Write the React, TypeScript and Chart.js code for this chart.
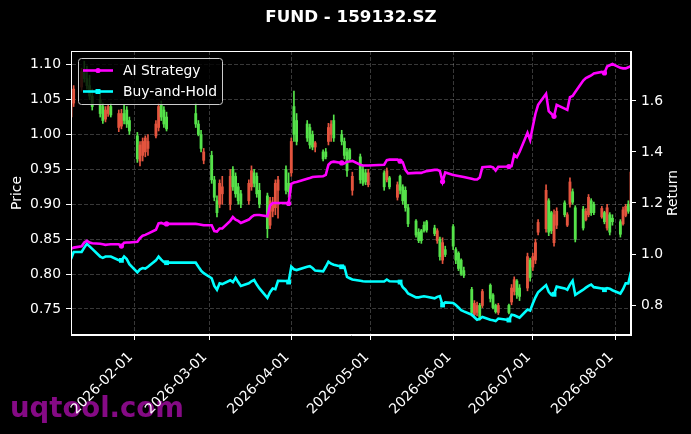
import React, { useEffect, useRef } from 'react';
import { Chart, registerables } from 'chart.js';

Chart.register(...registerables);

// calendar: weekdays between the first and last day, minus exchange holidays
const FIRST_DAY = '2026-01-08';
const LAST_DAY = '2026-08-07';
const holidays = [
  '2026-02-16', '2026-02-17', '2026-02-18', '2026-02-19', '2026-02-20', '2026-02-23',
  '2026-04-06', '2026-05-01', '2026-05-04', '2026-05-05', '2026-06-19',
];

const monthTicks = ['2026-02-01', '2026-03-01', '2026-04-01', '2026-05-01', '2026-06-01', '2026-07-01', '2026-08-01'];
const priceTicks = [0.75, 0.8, 0.85, 0.9, 0.95, 1.0, 1.05, 1.1];
const returnTicks = [0.8, 1.0, 1.2, 1.4, 1.6];

// one line per trading week
const candleOpen = [
  1.025, 1.045,
  1.068, 1.09, 1.08, 1.07, 1.055,
  1.05, 1.04, 1.022, 1.03, 1.04,
  1.01, 1.012, 1.03, 1.035, 1.02,
  0.998, 0.962, 0.97, 0.975, 0.98,
  0.998, 1.01, 1.042, 1.035, 1.025,
  1.03, 1.015, 1.0, 0.963,
  0.97, 0.935, 0.905, 0.9, 0.915,
  0.9, 0.95, 0.94, 0.925, 0.915,
  0.905, 0.925, 0.945, 0.94, 0.92,
  0.912, 0.87, 0.89, 0.895, 0.92,
  0.95, 0.93, 0.945, 1.04, 1.02,
  1.015, 1.01, 1.0, 0.982,
  0.975, 0.975, 0.99, 1.0, 1.02,
  1.0, 0.99, 0.975, 0.978, 0.92,
  0.968, 0.95, 0.945, 0.928,
  0.945, 0.935, 0.938,
  0.91, 0.94, 0.925, 0.92, 0.895,
  0.876, 0.86, 0.862, 0.87, 0.875,
  0.866, 0.848, 0.85, 0.82, 0.835,
  0.868, 0.835, 0.83, 0.82, 0.805,
  0.778, 0.742, 0.745, 0.755, 0.755,
  0.784, 0.77, 0.755, 0.745,
  0.755, 0.76, 0.775, 0.79, 0.78,
  0.78, 0.82, 0.81, 0.82, 0.86,
  0.865, 0.905, 0.888, 0.845, 0.87,
  0.902, 0.87, 0.9, 0.918, 0.895,
  0.893, 0.878, 0.885, 0.905, 0.9,
  0.882, 0.888, 0.866, 0.885, 0.88,
  0.875, 0.872, 0.884, 0.9, 0.897,
];
const candleHigh = [
  1.052, 1.07,
  1.095, 1.105, 1.098, 1.085, 1.065,
  1.058, 1.045, 1.04, 1.043, 1.045,
  1.035, 1.036, 1.042, 1.04, 1.025,
  1.003, 0.99, 0.995, 0.998, 1.0,
  1.02, 1.045, 1.048, 1.04, 1.032,
  1.045, 1.02, 1.006, 0.98,
  0.976, 0.94, 0.912, 0.935, 0.94,
  0.95, 0.954, 0.945, 0.93, 0.92,
  0.935, 0.955, 0.95, 0.945, 0.93,
  0.916, 0.91, 0.91, 0.935, 0.94,
  0.955, 0.945, 0.995, 1.062, 1.03,
  1.02, 1.015, 1.005, 0.99,
  0.978, 0.98, 1.016, 1.02, 1.028,
  1.006, 0.995, 0.98, 0.98, 0.946,
  0.972, 0.955, 0.95, 0.95,
  0.948, 0.952, 0.94,
  0.932, 0.942, 0.928, 0.925, 0.9,
  0.878, 0.865, 0.864, 0.875, 0.877,
  0.87, 0.865, 0.853, 0.852, 0.84,
  0.871, 0.838, 0.832, 0.822, 0.81,
  0.781, 0.762, 0.76, 0.758, 0.778,
  0.786, 0.772, 0.757, 0.758,
  0.757, 0.785, 0.796, 0.792, 0.785,
  0.83, 0.823, 0.83, 0.85, 0.878,
  0.928, 0.908, 0.89, 0.892, 0.895,
  0.905, 0.888, 0.938, 0.922, 0.898,
  0.897, 0.894, 0.914, 0.908, 0.903,
  0.897, 0.89, 0.9, 0.888, 0.885,
  0.878, 0.896, 0.9, 0.905, 0.948,
];
const candleLow = [
  1.015, 1.04,
  1.062, 1.075, 1.065, 1.05, 1.035,
  1.025, 1.016, 1.018, 1.026, 1.025,
  1.004, 1.008, 1.015, 1.01, 1.0,
  0.96, 0.955, 0.962, 0.968, 0.97,
  0.995, 1.005, 1.02, 1.01, 1.005,
  1.01, 0.998, 0.975, 0.958,
  0.93, 0.905, 0.882, 0.895, 0.9,
  0.892, 0.92, 0.91, 0.9, 0.895,
  0.9, 0.92, 0.925, 0.91, 0.895,
  0.852, 0.865, 0.882, 0.885, 0.88,
  0.915, 0.91, 0.94, 0.99, 0.985,
  0.99, 0.98, 0.978, 0.975,
  0.962, 0.965, 0.985, 0.99, 0.99,
  0.985, 0.965, 0.94, 0.962, 0.913,
  0.93, 0.927, 0.928, 0.925,
  0.92, 0.932, 0.922,
  0.906, 0.915, 0.9, 0.89, 0.868,
  0.853, 0.845, 0.844, 0.86, 0.86,
  0.855, 0.844, 0.82, 0.815, 0.825,
  0.835, 0.815, 0.805, 0.798, 0.795,
  0.74, 0.739, 0.74, 0.734, 0.752,
  0.76, 0.75, 0.744, 0.742,
  0.743, 0.756, 0.77, 0.765, 0.762,
  0.776, 0.79, 0.805, 0.815, 0.856,
  0.86, 0.855, 0.858, 0.84, 0.865,
  0.882, 0.868, 0.896, 0.9, 0.846,
  0.863, 0.876, 0.882, 0.884, 0.885,
  0.88, 0.872, 0.863, 0.856, 0.87,
  0.853, 0.87, 0.882, 0.887, 0.895,
];
const candleClose = [
  1.045, 1.065,
  1.09, 1.08, 1.07, 1.055, 1.04,
  1.03, 1.02, 1.035, 1.04, 1.028,
  1.03, 1.03, 1.02, 1.015, 1.005,
  0.965, 0.985, 0.99, 0.995, 0.99,
  1.015, 1.04, 1.025, 1.015, 1.008,
  1.015, 1.0, 0.98, 0.975,
  0.935, 0.91, 0.888, 0.93, 0.925,
  0.94, 0.925, 0.915, 0.905, 0.9,
  0.93, 0.948, 0.93, 0.915, 0.9,
  0.865, 0.905, 0.9, 0.93, 0.935,
  0.92, 0.918, 0.99, 1.0, 0.99,
  0.995, 0.985, 0.982, 0.988,
  0.965, 0.968, 1.01, 1.015, 0.995,
  0.99, 0.97, 0.948, 0.965, 0.94,
  0.935, 0.93, 0.932, 0.945,
  0.925, 0.948, 0.925,
  0.928, 0.92, 0.905, 0.895, 0.872,
  0.856, 0.848, 0.848, 0.862, 0.863,
  0.858, 0.862, 0.825, 0.845, 0.828,
  0.84, 0.82, 0.808, 0.8, 0.798,
  0.745, 0.758, 0.755, 0.738, 0.775,
  0.765, 0.752, 0.746, 0.755,
  0.745, 0.78, 0.792, 0.77, 0.768,
  0.825, 0.795, 0.825, 0.845, 0.874,
  0.92, 0.86, 0.862, 0.885, 0.89,
  0.885, 0.885, 0.932, 0.903, 0.85,
  0.866, 0.89, 0.91, 0.888, 0.888,
  0.894, 0.875, 0.895, 0.86, 0.875,
  0.857, 0.892, 0.897, 0.89, 0.946,
];

const aiStrategy = [
  1.02, 1.025,
  1.03, 1.045, 1.052, 1.045, 1.042,
  1.04, 1.038, 1.036, 1.037, 1.038,
  1.038, 1.031, 1.044, 1.045, 1.045,
  1.048, 1.062, 1.072, 1.075, 1.08,
  1.095, 1.12, 1.122, 1.118, 1.118,
  1.118, 1.117, 1.115, 1.113,
  1.113, 1.09, 1.088, 1.1, 1.1,
  1.13, 1.145, 1.135, 1.13, 1.122,
  1.135, 1.145, 1.152, 1.153, 1.153,
  1.148, 1.19, 1.2, 1.2, 1.2,
  1.2, 1.198, 1.275, 1.28, 1.282,
  1.295, 1.298, 1.302, 1.303,
  1.305, 1.31, 1.35, 1.36, 1.362,
  1.357, 1.355, 1.362, 1.363, 1.365,
  1.35, 1.347, 1.347, 1.347,
  1.35, 1.368, 1.37,
  1.37, 1.364, 1.36, 1.33, 1.316,
  1.318, 1.318, 1.318, 1.322, 1.325,
  1.33, 1.33, 1.325, 1.284, 1.32,
  1.31, 1.308, 1.306, 1.304, 1.302,
  1.295, 1.292, 1.292, 1.3, 1.34,
  1.343, 1.34, 1.327, 1.342,
  1.343, 1.345, 1.39, 1.38, 1.4,
  1.475, 1.447, 1.5, 1.55, 1.585,
  1.628, 1.56, 1.55, 1.54, 1.585,
  1.57, 1.565, 1.615, 1.62, 1.635,
  1.68, 1.69, 1.695, 1.7, 1.708,
  1.714, 1.71, 1.735, 1.74, 1.745,
  1.73, 1.728, 1.728, 1.732, 1.737,
];
const buyAndHold = [
  0.98, 1.008,
  1.008, 1.025, 1.04, 1.03, 1.02,
  0.99, 0.985, 0.99, 0.99, 0.99,
  0.976, 0.975, 0.99, 0.98, 0.96,
  0.928, 0.94, 0.945, 0.943, 0.95,
  0.975, 0.99, 0.978, 0.968, 0.966,
  0.966, 0.95, 0.935, 0.925,
  0.905, 0.875, 0.86, 0.885, 0.882,
  0.897, 0.89, 0.907, 0.89, 0.875,
  0.885, 0.893, 0.898, 0.88, 0.865,
  0.828, 0.85, 0.865, 0.862, 0.895,
  0.894, 0.89, 0.95, 0.94, 0.937,
  0.95, 0.952, 0.945, 0.935,
  0.932, 0.95, 0.97, 0.962, 0.958,
  0.95, 0.95, 0.91, 0.905, 0.9,
  0.895, 0.893, 0.892, 0.892,
  0.892, 0.9, 0.893,
  0.892, 0.89, 0.87, 0.86, 0.845,
  0.83, 0.83, 0.832, 0.834, 0.832,
  0.826, 0.832, 0.835, 0.8, 0.81,
  0.808, 0.8, 0.79, 0.78, 0.775,
  0.762, 0.752, 0.742, 0.746, 0.753,
  0.742, 0.74, 0.737, 0.747,
  0.741, 0.762, 0.76, 0.755, 0.75,
  0.782, 0.778, 0.806, 0.83, 0.85,
  0.878, 0.852, 0.84, 0.842, 0.872,
  0.865, 0.86, 0.88, 0.895, 0.84,
  0.86, 0.868, 0.875, 0.88, 0.87,
  0.865, 0.86, 0.866, 0.864, 0.858,
  0.845, 0.862, 0.885, 0.885, 0.93,
];

// days where both curves carry a marker
const signalDays = [
  '2026-01-27', '2026-02-13', '2026-03-31', '2026-04-20', '2026-05-12',
  '2026-05-28', '2026-06-22', '2026-07-09', '2026-07-28',
];

const UP = '#e4543e';
const DOWN = '#55e24a';
const AI_COLOR = '#ff00ff';
const BH_COLOR = '#00ffff';
const GRID = 'rgba(255,255,255,0.28)';
const FONT = 'DejaVu Sans';

const DAY_MS = 86400000;
const toDay = (s: string) => Math.round(Date.parse(s + 'T00:00:00Z') / DAY_MS);
const fmtDay = (d: number) => new Date(d * DAY_MS).toISOString().slice(0, 10);

function tradingDays(): number[] {
  const skip = new Set(holidays.map(toDay));
  const days: number[] = [];
  for (let d = toDay(FIRST_DAY); d <= toDay(LAST_DAY); d++) {
    const wd = new Date(d * DAY_MS).getUTCDay();
    if (wd === 0 || wd === 6 || skip.has(d)) continue;
    days.push(d);
  }
  return days;
}

// pin the plot box so it sits where the reference has it
const fixBox = (w?: number, h?: number) => (s: any) => {
  if (w !== undefined) s.width = w;
  if (h !== undefined) s.height = h;
  s.paddingLeft = s.paddingRight = s.paddingTop = s.paddingBottom = 0;
};

const decorPlugin = {
  id: 'decor',
  beforeDraw(chart: Chart) {
    const { ctx, width, height } = chart;
    ctx.save();
    ctx.fillStyle = '#000';
    ctx.fillRect(0, 0, width, height);
    ctx.fillStyle = '#850a85';
    ctx.font = `bold 27.5px ${FONT}`;
    ctx.textAlign = 'left';
    ctx.textBaseline = 'alphabetic';
    ctx.fillText('uqtool.com', 10, 417);
    ctx.restore();
  },
  afterDatasetsDraw(chart: Chart) {
    const { ctx, chartArea: a } = chart;
    ctx.save();
    // frame
    ctx.strokeStyle = '#fff';
    ctx.lineWidth = 1;
    ctx.strokeRect(a.left + 0.5, a.top + 0.5, a.right - a.left - 1, a.bottom - a.top - 1);

    // legend
    const lx = 78.5, ly = 58.5, lw = 144, lh = 46, r = 3;
    ctx.beginPath();
    ctx.moveTo(lx + r, ly);
    ctx.arcTo(lx + lw, ly, lx + lw, ly + lh, r);
    ctx.arcTo(lx + lw, ly + lh, lx, ly + lh, r);
    ctx.arcTo(lx, ly + lh, lx, ly, r);
    ctx.arcTo(lx, ly, lx + lw, ly, r);
    ctx.closePath();
    ctx.fillStyle = 'rgba(0,0,0,0.8)';
    ctx.fill();
    ctx.strokeStyle = '#cccccc';
    ctx.stroke();

    const rows = [
      { label: 'AI Strategy', color: AI_COLOR, y: 70.5, square: false },
      { label: 'Buy-and-Hold', color: BH_COLOR, y: 91.5, square: true },
    ];
    ctx.font = `13.9px ${FONT}`;
    ctx.textBaseline = 'middle';
    ctx.textAlign = 'left';
    rows.forEach((row) => {
      ctx.strokeStyle = row.color;
      ctx.fillStyle = row.color;
      ctx.lineWidth = 2.6;
      ctx.beginPath();
      ctx.moveTo(83, row.y);
      ctx.lineTo(113, row.y);
      ctx.stroke();
      if (row.square) {
        ctx.fillRect(95.5, row.y - 2.5, 5, 5);
      } else {
        ctx.beginPath();
        ctx.arc(98, row.y, 2.6, 0, Math.PI * 2);
        ctx.fill();
      }
      ctx.fillStyle = '#fff';
      ctx.fillText(row.label, 123, row.y + 1);
    });

    // title and axis titles
    ctx.fillStyle = '#fff';
    ctx.textAlign = 'center';
    ctx.font = `bold 16.7px ${FONT}`;
    ctx.fillText('FUND - 159132.SZ', (a.left + a.right) / 2, 18);
    ctx.font = `13.9px ${FONT}`;
    const midY = (a.top + a.bottom) / 2;
    ctx.save();
    ctx.translate(17, midY);
    ctx.rotate(-Math.PI / 2);
    ctx.fillText('Price', 0, 0);
    ctx.restore();
    ctx.save();
    ctx.translate(673, midY);
    ctx.rotate(-Math.PI / 2);
    ctx.fillText('Return', 0, 0);
    ctx.restore();
    ctx.restore();
  },
};

export default function App() {
  const canvasRef = useRef<HTMLCanvasElement>(null);
  const chartRef = useRef<Chart | null>(null);

  useEffect(() => {
    document.body.style.margin = '0';
    document.body.style.background = '#000';
    const canvas = canvasRef.current;
    if (!canvas) return;
    if (chartRef.current) chartRef.current.destroy();

    const days = tradingDays();
    const signals = new Set(signalDays.map(toDay));
    const colors = days.map((_, i) => (candleClose[i] >= candleOpen[i] ? UP : DOWN));
    const markerR = (r: number) => days.map((d) => (signals.has(d) ? r : 0));

    chartRef.current = new Chart(canvas, {
      type: 'bar',
      data: {
        datasets: [
          {
            type: 'line',
            label: 'AI Strategy',
            yAxisID: 'y2',
            data: days.map((d, i) => ({ x: d, y: aiStrategy[i] })),
            borderColor: AI_COLOR,
            backgroundColor: AI_COLOR,
            borderWidth: 2.6,
            pointRadius: markerR(2.6),
            pointBorderWidth: 0,
            pointBackgroundColor: AI_COLOR,
            pointStyle: 'circle',
            tension: 0,
            order: 0,
          },
          {
            type: 'line',
            label: 'Buy-and-Hold',
            yAxisID: 'y2',
            data: days.map((d, i) => ({ x: d, y: buyAndHold[i] })),
            borderColor: BH_COLOR,
            backgroundColor: BH_COLOR,
            borderWidth: 2.6,
            pointRadius: markerR(3.4),
            pointBorderWidth: 0,
            pointBackgroundColor: BH_COLOR,
            pointStyle: 'rect',
            tension: 0,
            order: 1,
          },
          {
            type: 'bar',
            label: 'body',
            yAxisID: 'y',
            data: days.map((d, i) => ({ x: d, y: [candleOpen[i], candleClose[i]] })),
            backgroundColor: colors,
            borderWidth: 0,
            barThickness: 2.2,
            grouped: false,
            order: 2,
          },
          {
            type: 'bar',
            label: 'wick',
            yAxisID: 'y',
            data: days.map((d, i) => ({ x: d, y: [candleLow[i], candleHigh[i]] })),
            backgroundColor: colors,
            borderWidth: 0,
            barThickness: 1,
            grouped: false,
            order: 3,
          },
        ],
      } as any,
      options: {
        animation: false,
        responsive: true,
        maintainAspectRatio: false,
        events: [],
        layout: { padding: { top: 51, left: 0, right: 0, bottom: 0 } },
        plugins: { legend: { display: false }, tooltip: { enabled: false }, title: { display: false } },
        scales: {
          x: {
            type: 'linear',
            min: toDay(FIRST_DAY),
            max: toDay(LAST_DAY),
            offset: false,
            afterFit: fixBox(undefined, 99),
            afterBuildTicks: (s: any) => {
              s.ticks = monthTicks.map((t) => ({ value: toDay(t) }));
            },
            ticks: {
              color: '#fff',
              font: { family: FONT, size: 13.9 },
              minRotation: 45,
              maxRotation: 45,
              autoSkip: false,
              padding: 9,
              labelOffset: -4,
              callback: (v: any) => fmtDay(Number(v)),
            },
            grid: { color: GRID, lineWidth: 0.8, tickColor: '#fff', tickLength: 5, tickWidth: 1, offset: false },
            border: { display: true, color: '#fff', width: 1, dash: [4, 2] },
          },
          y: {
            type: 'linear',
            position: 'left',
            min: 0.7127,
            max: 1.1196,
            afterFit: fixBox(71),
            afterBuildTicks: (s: any) => {
              s.ticks = priceTicks.map((v) => ({ value: v }));
            },
            ticks: {
              color: '#fff',
              font: { family: FONT, size: 13.9 },
              padding: 5,
              callback: (v: any) => Number(v).toFixed(2),
            },
            grid: { color: GRID, lineWidth: 0.8, tickColor: '#fff', tickLength: 5, tickWidth: 1 },
            border: { display: true, color: '#fff', width: 1, dash: [4, 2] },
          },
          y2: {
            type: 'linear',
            position: 'right',
            min: 0.6824,
            max: 1.796,
            afterFit: fixBox(60),
            afterBuildTicks: (s: any) => {
              s.ticks = returnTicks.map((v) => ({ value: v }));
            },
            ticks: {
              color: '#fff',
              font: { family: FONT, size: 13.9 },
              padding: 5,
              callback: (v: any) => Number(v).toFixed(1),
            },
            grid: { drawOnChartArea: false, tickColor: '#fff', tickLength: 5, tickWidth: 1 },
            border: { display: true, color: '#fff', width: 1 },
          },
        },
      } as any,
      plugins: [decorPlugin],
    });

    return () => {
      if (chartRef.current) {
        chartRef.current.destroy();
        chartRef.current = null;
      }
    };
  }, []);

  return (
    <div style={{ position: 'relative', width: 691, height: 434, background: '#000' }}>
      <canvas ref={canvasRef}></canvas>
    </div>
  );
}
